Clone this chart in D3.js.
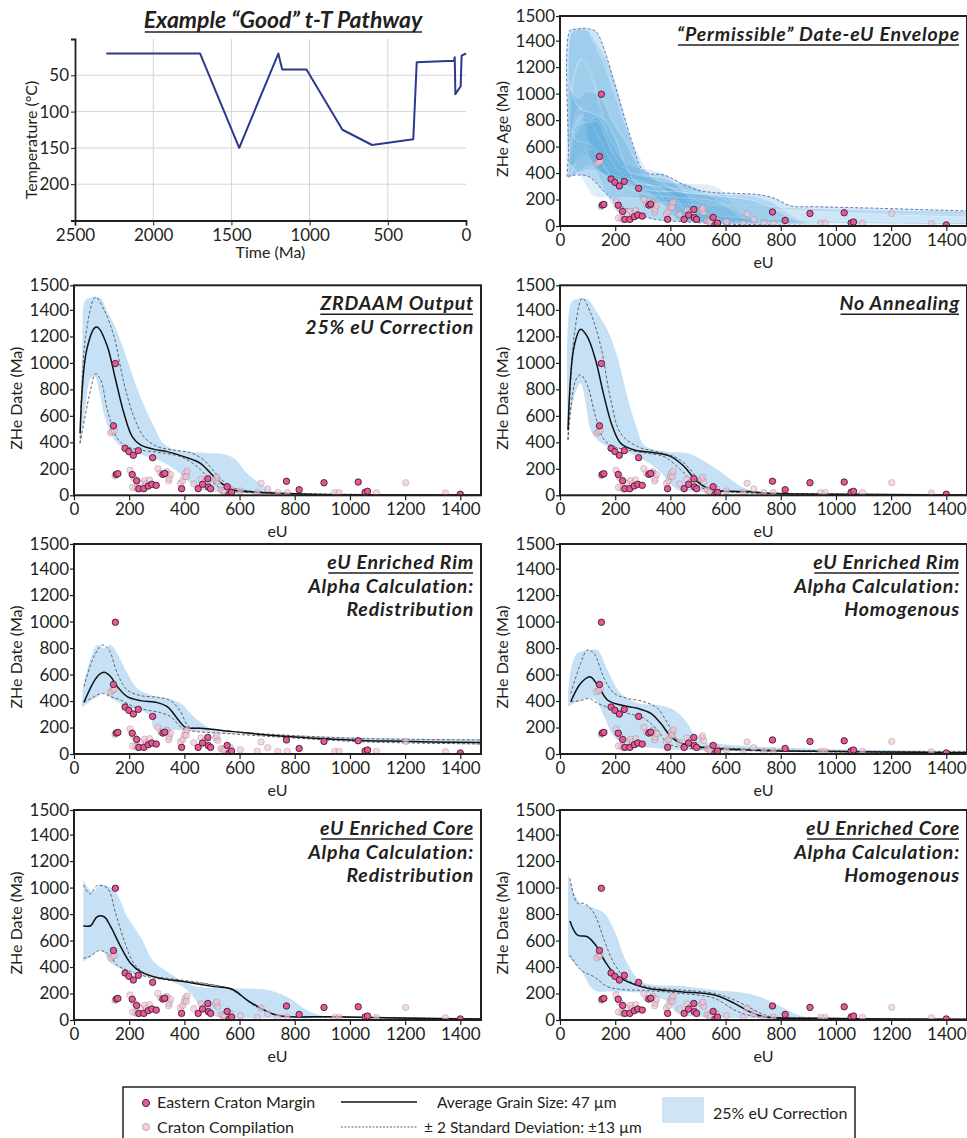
<!DOCTYPE html>
<html lang="en">
<head>
<meta charset="utf-8">
<script src="https://cdn.jsdelivr.net/npm/d3@7"></script>
<style>
  body { margin: 0; background: #fff; }
  svg text { font-family: Lato, "Open Sans", sans-serif; fill: #231f20; }
</style>
</head>
<body>
<script>
// ---- t-T path (time Ma, temperature C)
var tTime = [2300, 1700, 1450, 1200, 1175, 1020, 790, 600, 337, 315, 77, 72, 68, 34, 28, 0];
var tTemp = [20, 20, 150, 20, 42, 42, 125, 146, 138, 32, 30, 25, 76, 65, 23, 20];
var timeTicks = [2500, 2000, 1500, 1000, 500, 0];
var tempTicks = [0, 50, 100, 150, 200, 250];

// ---- measured grains [eU, ZHe date]
var eastern = [[150,995],[143,525],[185,355],[199,330],[215,302],[233,337],[285,284],[153,158],[159,163],
  [211,157],[227,110],[235,50],[253,50],[269,70],[282,83],[298,75],[322,158],[329,165],[390,50],[450,50],
  [466,83],[485,125],[487,63],[495,50],[555,65],[561,5],[571,22],[770,106],[816,42],[906,95],[1030,100],
  [1055,23],[1064,30],[1400,8]];
var compilation = [[133,470],[140,480],[146,490],[149,148],[203,189],[217,133],[223,57],[241,91],[256,111],
  [263,88],[274,116],[304,201],[314,166],[338,166],[343,108],[345,128],[336,179],[350,156],[386,91],[394,110],
  [400,141],[404,166],[410,181],[407,141],[434,86],[460,121],[474,100],[483,91],[513,121],[521,103],[517,136],
  [533,40],[540,35],[546,25],[567,48],[603,32],[664,20],[678,91],[702,48],[739,20],[773,20],[945,20],[961,20],
  [1096,20],[1202,95],[1346,17],[212,60],[230,48]];

var eUTicks = [0, 200, 400, 600, 800, 1000, 1200, 1400];
var dateTicks = [0, 200, 400, 600, 800, 1000, 1200, 1400];

// ---- envelope outline
var envUp = [[25,373],[30,524],[37,1480],[58,1485],[88,1493],[112,1485],[131,1468],[161,1329],[197,1078],
  [233,826],[270,574],[294,436],[318,398],[378,385],[439,322],[499,272],[560,252],[632,247],[729,234],
  [777,209],[838,151],[923,146],[1164,133],[1480,113]];
var envLow = [[25,373],[57,385],[105,372],[166,247],[226,146],[275,108],[311,70],[360,45],[444,33],
  [600,15],[900,5],[1480,2]];

// ---- ZRDAAM output
var zrMean = [[22,468],[46,1098],[78,1269],[90,1262],[121,1123],[151,871],[181,619],[211,443],[241,380],
  [290,347],[338,330],[398,292],[458,242],[507,141],[543,78],[579,40],[627,28],[700,20],[820,10],[941,5],[1480,2]];
var zrHi = [[22,393],[42,1199],[78,1496],[109,1400],[145,1199],[181,846],[217,594],[253,443],[302,368],
  [362,342],[422,322],[470,267],[519,154],[567,65],[627,35],[700,23],[800,15],[1000,8],[1480,3]];
var zrLo = [[22,393],[60,796],[78,917],[97,871],[121,645],[157,430],[193,367],[241,342],[314,322],[386,292],
  [446,217],[494,116],[531,53],[579,28],[651,20],[800,10],[1000,5],[1480,2]];
var zrBandUp = [[22,420],[30,1100],[40,1470],[55,1490],[95,1490],[120,1390],[150,1270],[175,1130],[200,980],
  [230,800],[260,650],[290,520],[320,400],[350,355],[400,330],[480,320],[540,312],[580,280],[630,160],
  [680,80],[724,28],[820,15],[1100,6],[1480,3]];
var zrBandLo = [[22,380],[40,650],[60,880],[75,900],[90,800],[110,600],[133,470],[163,380],[248,304],
  [320,254],[368,191],[404,128],[429,78],[465,40],[525,27],[600,18],[700,10],[900,5],[1480,2]];

// ---- No annealing
var naMean = [[29,493],[51,1123],[75,1254],[99,1198],[129,1022],[160,745],[190,519],[220,393],[269,342],
  [341,322],[402,292],[450,217],[486,128],[523,65],[559,40],[619,30],[680,28],[765,15],[861,10],[1480,3]];
var naHi = [[29,418],[51,1198],[81,1488],[111,1375],[148,1123],[184,720],[220,468],[281,368],[365,322],
  [426,280],[474,191],[511,91],[547,40],[607,28],[800,15],[1480,4]];
var naLo = [[29,418],[57,871],[75,909],[99,833],[129,594],[160,418],[196,368],[244,342],[317,317],[377,292],
  [438,191],[486,91],[535,40],[583,30],[800,12],[1480,3]];
var naBandUp = [[29,393],[39,1450],[57,1480],[99,1480],[136,1375],[172,1249],[208,1047],[244,745],[281,493],
  [305,380],[377,330],[462,317],[535,242],[607,141],[668,53],[740,20],[861,10],[1480,3]];
var naBandLo = [[29,393],[51,745],[75,846],[93,695],[111,493],[136,418],[172,368],[220,342],[281,292],
  [341,217],[390,116],[426,40],[486,30],[559,20],[800,8],[1480,2]];

// ---- eU enriched rim, redistribution
var rrMean = [[36,390],[84,584],[109,617],[133,584],[157,509],[193,433],[241,403],[302,388],[338,357],
  [374,269],[404,201],[458,194],[579,169],[700,144],[820,126],[941,111],[1062,101],[1182,96],[1303,91],[1480,86]];
var rrHi = [[36,509],[72,735],[103,823],[127,785],[157,609],[193,483],[241,441],[302,428],[350,403],
  [386,320],[416,206],[458,194],[579,169],[820,136],[1062,116],[1480,106]];
var rrLo = [[36,390],[72,433],[103,458],[133,433],[169,408],[217,357],[265,332],[314,312],[350,282],
  [386,206],[410,181],[579,151],[820,118],[1062,91],[1480,76]];
var rrBandUp = [[28,383],[36,534],[72,785],[84,823],[109,798],[133,823],[163,735],[193,609],[229,496],
  [277,446],[338,420],[386,383],[434,282],[483,206],[531,169],[700,151],[941,131],[1182,118],[1480,111]];
var rrBandLo = [[28,350],[84,433],[109,458],[145,408],[193,357],[241,332],[277,282],[289,194],[338,181],
  [398,181],[458,169],[700,136],[941,106],[1182,86],[1480,68]];

// ---- eU enriched rim, homogenous
var rhMean = [[39,395],[75,534],[109,584],[136,521],[172,408],[220,370],[281,345],[329,307],[365,232],
  [402,131],[438,81],[498,55],[559,43],[680,30],[922,20],[1164,15],[1480,10]];
var rhHi = [[39,458],[75,685],[99,785],[123,760],[160,571],[196,458],[244,420],[305,395],[353,345],
  [390,232],[426,106],[462,68],[559,50],[801,30],[1164,20],[1480,18]];
var rhLo = [[39,395],[75,403],[105,420],[136,383],[184,345],[244,307],[305,269],[353,181],[390,81],
  [438,50],[559,35],[801,20],[1480,10]];
var rhBandUp = [[29,446],[39,634],[63,760],[111,785],[136,785],[172,634],[220,458],[281,383],[353,370],
  [414,332],[462,232],[498,106],[559,81],[680,60],[922,40],[1164,30],[1480,25]];
var rhBandLo = [[29,357],[75,408],[123,420],[160,282],[196,131],[232,81],[257,55],[317,50],[438,30],
  [680,20],[1480,10]];

// ---- eU enriched core, redistribution
var crMean = [[34,712],[60,712],[84,780],[109,780],[133,705],[169,554],[205,428],[241,365],[302,320],
  [398,290],[507,252],[573,232],[627,151],[688,76],[742,33],[941,25],[1182,15],[1480,8]];
var crHi = [[34,1020],[58,952],[84,1015],[121,995],[151,806],[181,604],[217,428],[265,340],[338,315],
  [458,282],[567,232],[627,151],[688,76],[742,33],[941,24],[1480,8]];
var crLo = [[34,466],[60,483],[90,524],[121,504],[157,415],[205,365],[265,327],[338,302],[458,277],
  [579,227],[640,126],[700,63],[748,30],[941,22],[1480,6]];
var crBandUp = [[34,1057],[66,969],[97,1020],[145,982],[193,780],[241,629],[289,441],[338,365],[398,290],
  [446,252],[579,239],[700,227],[772,176],[844,76],[917,25],[1182,15],[1480,10]];
var crBandLo = [[34,441],[60,478],[97,529],[133,428],[193,365],[265,327],[338,302],[410,227],[470,76],
  [519,25],[700,15],[1480,5]];

// ---- eU enriched core, homogenous
var chMean = [[36,748],[63,642],[99,629],[129,566],[160,453],[196,352],[244,290],[317,239],[438,214],
  [559,189],[632,126],[680,70],[740,25],[922,13],[1480,5]];
var chHi = [[36,1070],[63,881],[87,881],[123,806],[160,604],[196,428],[244,302],[317,252],[438,227],
  [559,201],[632,151],[704,76],[753,30],[922,15],[1480,6]];
var chLo = [[36,491],[75,378],[123,327],[172,252],[220,232],[317,222],[438,201],[559,164],[632,76],
  [680,38],[740,20],[922,12],[1480,4]];
var chBandUp = [[29,1108],[51,957],[75,881],[111,856],[160,806],[196,680],[244,428],[293,290],[341,264],
  [438,257],[559,227],[680,201],[753,151],[825,76],[886,25],[1043,15],[1480,10]];
var chBandLo = [[29,478],[75,378],[123,227],[196,214],[317,201],[390,138],[426,50],[498,25],[680,15],[1480,5]];

var w = 967, h = 1138;
var bandColor = "#c6e1f6";
var svg = d3.select("body").append("svg").attr("width", w).attr("height", h);

// smooth open curve through points
var smooth = function(x, y) {
  return d3.line().x(function(d) { return x(d[0]); }).y(function(d) { return y(d[1]); })
    .curve(d3.curveCatmullRom.alpha(0.5));
};
// closed band from an upper edge and a lower edge
function bandPath(up, low, x, y) {
  var line = smooth(x, y);
  var a = line(up), b = line(low.slice().reverse());
  return a + "L" + b.slice(1) + "Z";
}

function titleText(g, txt, xPos, yPos, anchor, size) {
  return g.append("text").attr("x", xPos).attr("y", yPos).attr("text-anchor", anchor)
    .style("font-size", size + "px").style("font-weight", "bold").style("font-style", "italic")
    .style("letter-spacing", "0.8px").text(txt);
}
function underlined(g, txt, xPos, yPos, anchor, size) {
  var t = titleText(g, txt, xPos, yPos, anchor, size);
  var bb = t.node().getBBox();
  g.append("line").attr("x1", bb.x + 1).attr("x2", bb.x + bb.width - 1)
    .attr("y1", yPos + 4).attr("y2", yPos + 4).attr("stroke", "#231f20").attr("stroke-width", 1.5);
  return t;
}

// ================= t-T pathway =================
(function() {
  var x = d3.scaleLinear().domain([2500, 0]).range([75, 466]);
  var y = d3.scaleLinear().domain([0, 250]).range([39, 220.5]);
  var g = svg.append("g");

  g.selectAll(".vgrid").data([2000, 1500, 1000, 500]).enter().append("line")
    .attr("x1", function(d) { return x(d); }).attr("x2", function(d) { return x(d); })
    .attr("y1", y(0)).attr("y2", y(250)).attr("stroke", "#d4d4d4").attr("stroke-width", 1);
  g.selectAll(".hgrid").data([50, 100, 150, 200]).enter().append("line")
    .attr("x1", x(2500)).attr("x2", x(0))
    .attr("y1", function(d) { return y(d); }).attr("y2", function(d) { return y(d); })
    .attr("stroke", "#d4d4d4").attr("stroke-width", 1);

  var path = d3.line().x(function(d, i) { return x(tTime[i]); }).y(function(d) { return y(d); });
  g.append("path").datum(tTemp).attr("d", path).attr("fill", "none")
    .attr("stroke", "#2b3a8f").attr("stroke-width", 2).attr("stroke-linejoin", "round");

  var xa = g.append("g").attr("transform", "translate(0," + y(250) + ")")
    .call(d3.axisBottom(x).tickValues(timeTicks).tickSize(5).tickPadding(3).tickFormat(d3.format("d")));
  var ya = g.append("g").attr("transform", "translate(" + x(2500) + ",0)")
    .call(d3.axisLeft(y).tickValues(tempTicks).tickSize(4).tickPadding(2)
      .tickFormat(function(d) { return (d === 0 || d === 250) ? "" : d; }));
  [xa, ya].forEach(function(a) {
    a.select(".domain").attr("stroke", "#231f20").attr("stroke-width", 1.8);
    a.selectAll(".tick line").attr("stroke", "#231f20");
    a.selectAll("text").style("font-size", "17px").attr("fill", "#231f20");
  });

  g.append("text").attr("x", (x(2500) + x(0)) / 2).attr("y", 258).attr("text-anchor", "middle")
    .style("font-size", "16px").text("Time (Ma)");
  g.append("text").attr("transform", "translate(37," + 140 + ") rotate(-90)").attr("text-anchor", "middle")
    .style("font-size", "16px").text("Temperature (°C)");
  var t = g.append("text").attr("x", 283).attr("y", 28).attr("text-anchor", "middle")
    .style("font-size", "23px").style("font-weight", "bold").style("font-style", "italic")
    .text("Example \u201cGood\u201d t-T Pathway");
  var bb = t.node().getBBox();
  g.append("line").attr("x1", bb.x + 1).attr("x2", bb.x + bb.width - 1).attr("y1", 32).attr("y2", 32)
    .attr("stroke", "#231f20").attr("stroke-width", 1.5);
})();

// ================= eU panels =================
var panels = [
  { col: 1, row: 0, title: ["\u201cPermissible\u201d Date-eU Envelope"], ylab: "ZHe Age (Ma)", envelope: true },
  { col: 0, row: 1, title: ["ZRDAAM Output", "25% eU Correction"], mean: zrMean, hi: zrHi, lo: zrLo, bu: zrBandUp, bl: zrBandLo },
  { col: 1, row: 1, title: ["No Annealing"], mean: naMean, hi: naHi, lo: naLo, bu: naBandUp, bl: naBandLo },
  { col: 0, row: 2, title: ["eU Enriched Rim", "Alpha Calculation:", "Redistribution"], mean: rrMean, hi: rrHi, lo: rrLo, bu: rrBandUp, bl: rrBandLo },
  { col: 1, row: 2, title: ["eU Enriched Rim", "Alpha Calculation:", "Homogenous"], mean: rhMean, hi: rhHi, lo: rhLo, bu: rhBandUp, bl: rhBandLo },
  { col: 0, row: 3, title: ["eU Enriched Core", "Alpha Calculation:", "Redistribution"], mean: crMean, hi: crHi, lo: crLo, bu: crBandUp, bl: crBandLo },
  { col: 1, row: 3, title: ["eU Enriched Core", "Alpha Calculation:", "Homogenous"], mean: chMean, hi: chHi, lo: chLo, bu: chBandUp, bl: chBandLo }
];
var colX = [74, 560], rowBottom = [226, 495.3, 754, 1020];
var plotW = 407, plotH = 210, eUMax = 1475, dateMax = 1586;

panels.forEach(function(p, pi) {
  var x0 = colX[p.col], yb = rowBottom[p.row];
  var x = d3.scaleLinear().domain([0, eUMax]).range([x0, x0 + plotW]);
  var y = d3.scaleLinear().domain([0, dateMax]).range([yb, yb - plotH]);
  var g = svg.append("g");
  var clipId = "clip" + pi;
  g.append("clipPath").attr("id", clipId).append("rect")
    .attr("x", x0).attr("y", yb - plotH).attr("width", plotW).attr("height", plotH);
  var plot = g.append("g").attr("clip-path", "url(#" + clipId + ")");

  if (p.envelope) {
    plot.append("path").attr("d", bandPath(envUp, envLow, x, y)).attr("fill", "#cde5f7").attr("stroke", "none");
    panels.slice(1).forEach(function(q) {
      plot.append("path").attr("d", bandPath(q.bu, q.bl, x, y))
        .attr("fill", "#3d98d8").attr("fill-opacity", 0.17)
        .attr("stroke", "#ffffff").attr("stroke-opacity", 0.55).attr("stroke-width", 0.6);
      plot.append("path").attr("d", smooth(x, y)(q.mean)).attr("fill", "none")
        .attr("stroke", "#ffffff").attr("stroke-opacity", 0.45).attr("stroke-width", 0.6);
    });
    plot.append("path").attr("d", bandPath(envUp, envLow, x, y)).attr("fill", "none")
      .attr("stroke", "#6f73b8").attr("stroke-width", 1).attr("stroke-dasharray", "3,2");
  } else {
    plot.append("path").attr("d", bandPath(p.bu, p.bl, x, y)).attr("fill", bandColor);
    [p.hi, p.lo].forEach(function(s) {
      plot.append("path").attr("d", smooth(x, y)(s)).attr("fill", "none")
        .attr("stroke", "#555").attr("stroke-width", 0.9).attr("stroke-dasharray", "3,2");
    });
    plot.append("path").attr("d", smooth(x, y)(p.mean)).attr("fill", "none")
      .attr("stroke", "#111").attr("stroke-width", 1.5);
  }

  // grains
  plot.selectAll(".comp").data(compilation).enter().append("circle")
    .attr("cx", function(d) { return x(d[0]); }).attr("cy", function(d) { return y(d[1]); }).attr("r", 3.2)
    .attr("fill", "#f1c3d3").attr("fill-opacity", 0.65)
    .attr("stroke", "#6d5c64").attr("stroke-opacity", 0.35).attr("stroke-width", 0.8);
  plot.selectAll(".east").data(eastern).enter().append("circle")
    .attr("cx", function(d) { return x(d[0]); }).attr("cy", function(d) { return y(d[1]); }).attr("r", 3.2)
    .attr("fill", "#e9579a").attr("stroke", "#3b1d2a").attr("stroke-width", 0.9);

  // frame and axes
  g.append("rect").attr("x", x0).attr("y", yb - plotH).attr("width", plotW).attr("height", plotH)
    .attr("fill", "none").attr("stroke", "#231f20").attr("stroke-width", 2);
  var xa = g.append("g").attr("transform", "translate(0," + yb + ")")
    .call(d3.axisBottom(x).tickValues(eUTicks).tickSize(5).tickPadding(3).tickFormat(d3.format("d")));
  var ya = g.append("g").attr("transform", "translate(" + x0 + ",0)")
    .call(d3.axisLeft(y).tickValues(dateTicks.concat([dateMax])).tickSize(4).tickPadding(1)
      .tickFormat(function(d) { return d === dateMax ? "1500" : d; }));
  [xa, ya].forEach(function(a) {
    a.select(".domain").remove();
    a.selectAll(".tick line").attr("stroke", "#231f20").attr("stroke-width", 1.2);
    a.selectAll("text").style("font-size", "17px").attr("fill", "#231f20");
  });

  g.append("text").attr("x", x0 + plotW / 2).attr("y", yb + 42).attr("text-anchor", "middle")
    .style("font-size", "16px").text("eU");
  g.append("text").attr("transform", "translate(" + (x0 - 52) + "," + (yb - plotH / 2 + 8) + ") rotate(-90)")
    .attr("text-anchor", "middle").style("font-size", "16px").text(p.ylab || "ZHe Date (Ma)");

  // panel title, right aligned
  var tx = x0 + plotW - 7, ty = yb - plotH + 25;
  p.title.forEach(function(line, i) {
    if (i === 0) underlined(g, line, tx, ty, "end", 19.5);
    else titleText(g, line, tx, ty + i * 23.5, "end", 19.5);
  });
});

// ================= legend =================
(function() {
  var g = svg.append("g");
  g.append("rect").attr("x", 123).attr("y", 1087).attr("width", 732).attr("height", 52)
    .attr("fill", "none").attr("stroke", "#231f20").attr("stroke-width", 1.5);
  g.append("circle").attr("cx", 146).attr("cy", 1103).attr("r", 3.6)
    .attr("fill", "#e9579a").attr("stroke", "#3b1d2a").attr("stroke-width", 0.9);
  g.append("circle").attr("cx", 146).attr("cy", 1127).attr("r", 3.6)
    .attr("fill", "#f1c3d3").attr("fill-opacity", 0.8).attr("stroke", "#6d5c64").attr("stroke-opacity", 0.4);
  g.append("text").attr("x", 157).attr("y", 1108).style("font-size", "16px").text("Eastern Craton Margin");
  g.append("text").attr("x", 157).attr("y", 1133).style("font-size", "16px").text("Craton Compilation");
  g.append("line").attr("x1", 341).attr("x2", 417).attr("y1", 1102).attr("y2", 1102)
    .attr("stroke", "#111").attr("stroke-width", 1.3);
  g.append("line").attr("x1", 341).attr("x2", 417).attr("y1", 1127).attr("y2", 1127)
    .attr("stroke", "#555").attr("stroke-width", 0.9).attr("stroke-dasharray", "2,1.5");
  g.append("text").attr("x", 437).attr("y", 1108).style("font-size", "15.5px").text("Average Grain Size: 47 \u00b5m");
  g.append("text").attr("x", 424).attr("y", 1133).style("font-size", "15.5px").text("\u00b1 2 Standard Deviation: \u00b113 \u00b5m");
  g.append("rect").attr("x", 662).attr("y", 1097).attr("width", 42).attr("height", 26).attr("fill", "#cfe5f7");
  g.append("text").attr("x", 713).attr("y", 1119).style("font-size", "16px").text("25% eU Correction");
})();
</script>
</body>
</html>
